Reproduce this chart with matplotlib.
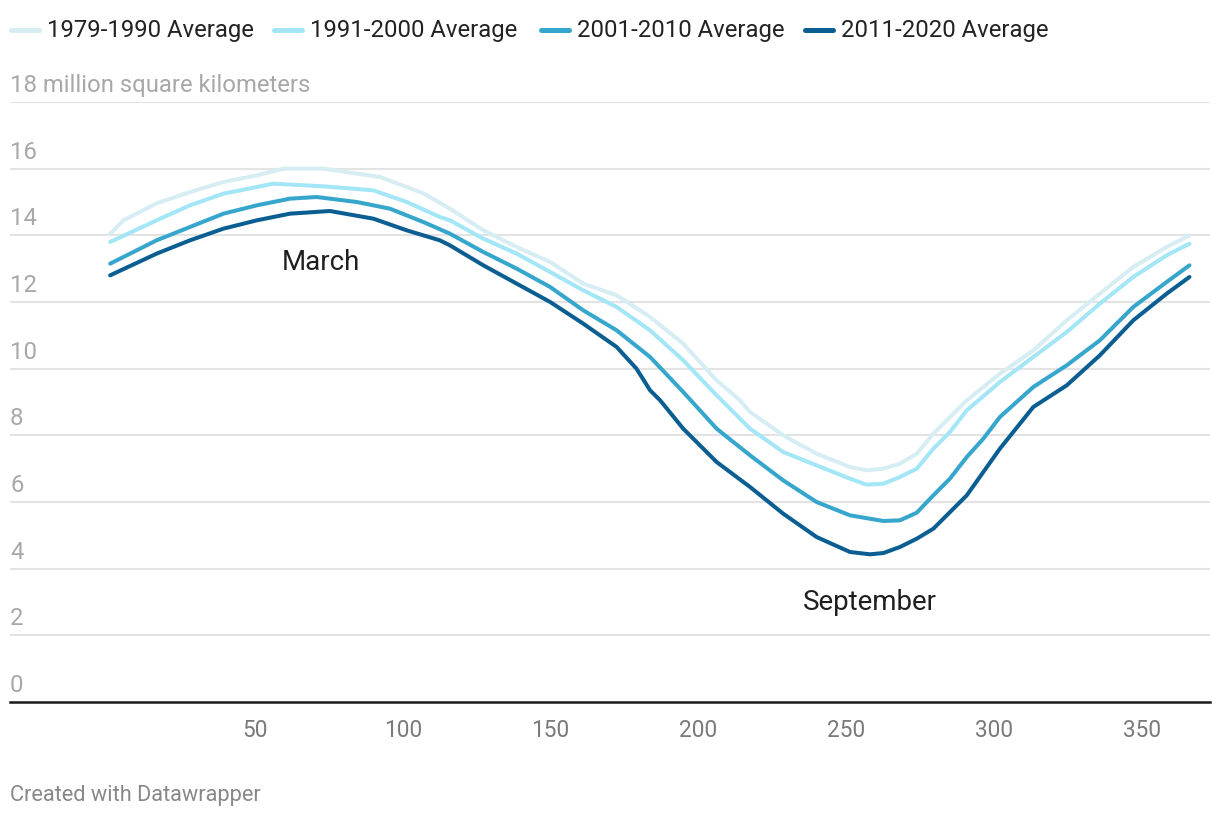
import matplotlib
matplotlib.use("Agg")
import matplotlib.pyplot as plt
from matplotlib.transforms import offset_copy
from matplotlib.lines import Line2D

plt.rcParams['font.family'] = ['Roboto', 'DejaVu Sans']

# ---- data ----
days_1979 = [1, 5.5, 16.7, 28, 39.3, 50.6, 59.6, 73.1, 92.3, 106.9, 115.9, 127.2, 138.5, 149.8,
             161, 172.3, 183.6, 194.8, 206.1, 214, 217.4, 228.6, 239.9, 251.2, 256.8, 262.5,
             268.1, 273.8, 279.4, 290.7, 301.9, 313.2, 324.5, 335.7, 347, 358.3, 366]
ext_1979 = [14.05, 14.45, 14.96, 15.3, 15.6, 15.8, 16.0, 16.0, 15.75, 15.26, 14.8, 14.15, 13.65, 13.2,
            12.55, 12.2, 11.55, 10.75, 9.65, 9.05, 8.7, 8.0, 7.45, 7.05, 6.95, 7.0,
            7.15, 7.45, 8.05, 9.05, 9.85, 10.55, 11.45, 12.25, 13.05, 13.65, 14.0]

days_1991 = [1, 16.7, 28, 39.3, 50.6, 56.2, 73.1, 90, 101.3, 112.5, 115.9, 127.2, 138.5, 149.8,
             161, 172.3, 183.6, 194.8, 206.1, 217.4, 228.6, 239.9, 251.2, 256.8, 262.5, 268.1,
             273.8, 279.4, 285, 290.7, 301.9, 313.2, 324.5, 335.7, 347, 358.3, 366]
ext_1991 = [13.8, 14.45, 14.9, 15.25, 15.45, 15.55, 15.47, 15.35, 15.0, 14.55, 14.45, 13.9, 13.45, 12.9,
            12.35, 11.85, 11.15, 10.25, 9.2, 8.2, 7.5, 7.1, 6.7, 6.52, 6.55, 6.75,
            7.0, 7.6, 8.1, 8.75, 9.6, 10.35, 11.1, 11.95, 12.75, 13.4, 13.75]

days_2001 = [1, 16.7, 28, 39.3, 50.6, 61.8, 70.8, 84.4, 95.6, 106.9, 115.9, 127.2, 138.5, 149.8,
             161, 172.3, 183.6, 194.8, 206.1, 217.4, 228.6, 239.9, 251.2, 262.5, 268.1, 273.8,
             279.4, 285, 290.7, 296.3, 301.9, 313.2, 324.5, 335.7, 347, 358.3, 366]
ext_2001 = [13.15, 13.85, 14.25, 14.65, 14.9, 15.1, 15.15, 15.0, 14.8, 14.4, 14.05, 13.5, 13.0, 12.45,
            11.75, 11.15, 10.35, 9.3, 8.2, 7.4, 6.65, 6.0, 5.6, 5.43, 5.45, 5.68,
            6.2, 6.7, 7.35, 7.9, 8.55, 9.45, 10.1, 10.85, 11.85, 12.6, 13.1]

days_2011 = [1, 16.7, 28, 39.3, 50.6, 61.8, 75.3, 90, 101.3, 112.5, 115.9, 127.2, 138.5, 149.8,
             161, 172.3, 179, 183.6, 187, 194.8, 206.1, 217.4, 228.6, 239.9, 251.2, 258, 262.5,
             268.1, 273.8, 279.4, 290.7, 301.9, 313.2, 324.5, 335.7, 347, 358.3, 366]
ext_2011 = [12.8, 13.45, 13.85, 14.2, 14.45, 14.65, 14.73, 14.5, 14.15, 13.85, 13.7, 13.1, 12.55, 12.0,
            11.35, 10.65, 10.0, 9.35, 9.05, 8.2, 7.2, 6.45, 5.65, 4.95, 4.5, 4.43, 4.47,
            4.65, 4.9, 5.2, 6.2, 7.6, 8.85, 9.5, 10.4, 11.45, 12.25, 12.75]

series_names = ["1979-1990 Average", "1991-2000 Average", "2001-2010 Average", "2011-2020 Average"]
series_colors = ["#d6edf4", "#a3e6f5", "#37a6cd", "#0b5e92"]
x_ticks = [50, 100, 150, 200, 250, 300, 350]
y_ticks = [0, 2, 4, 6, 8, 10, 12, 14, 16, 18]
annotations = [("March", 72.3, 13.2), ("September", 257.8, 3.0)]

# ---- figure ----
W, H = 1220, 818
fig = plt.figure(figsize=(W / 100, H / 100), dpi=100)
ax = fig.add_axes([10 / W, 1 - 702 / H, 1200 / W, 600 / H])

ax.set_xlim(-32.87, 372.95)
ax.set_ylim(0, 18)

for yv in y_ticks[1:]:
    ax.axhline(yv, color="#e3e3e3", lw=1.5, zorder=1)

all_days = [days_1979, days_1991, days_2001, days_2011]
all_ext = [ext_1979, ext_1991, ext_2001, ext_2011]
for d, e, c in zip(all_days, all_ext, series_colors):
    ax.plot(d, e, color=c, lw=2.9, solid_capstyle="round", solid_joinstyle="round", zorder=3)

for s in ["top", "right", "left"]:
    ax.spines[s].set_visible(False)
ax.spines["bottom"].set_color("#1a1a1a")
ax.spines["bottom"].set_linewidth(1.8)
ax.spines["bottom"].set_zorder(4)

ax.set_yticks([])
ax.set_xticks(x_ticks)
ax.set_xticklabels([str(t) for t in x_ticks])
ax.tick_params(axis="x", length=0, pad=12, labelsize=16.3, labelcolor="#7a7a7a")

ytrans = offset_copy(ax.get_yaxis_transform(), fig=fig, x=0, y=3.5, units="points")
for yv in y_ticks:
    lab = "18 million square kilometers" if yv == 18 else str(yv)
    ax.text(0, yv, lab, transform=ytrans, ha="left", va="bottom", fontsize=17.2, color="#a8a8a8")

for txt, xd, yd in annotations:
    ax.text(xd, yd, txt, ha="center", va="center", fontsize=20, color="#1f1f1f", zorder=5)

# legend
legend_x = [11, 274, 541, 805]
for lx, name, c in zip(legend_x, series_names, series_colors):
    fig.add_artist(Line2D([lx / W, (lx + 28) / W], [1 - 30 / H, 1 - 30 / H], color=c, lw=3.6,
                          solid_capstyle="round", transform=fig.transFigure))
    fig.text((lx + 36) / W, 1 - 30 / H, name, ha="left", va="center", fontsize=17.2, color="#222222")

fig.text(10 / W, 1 - 796 / H, "Created with Datawrapper", ha="left", va="center", fontsize=15.7, color="#888888")

fig.savefig("out.png", dpi=100, facecolor="white")
